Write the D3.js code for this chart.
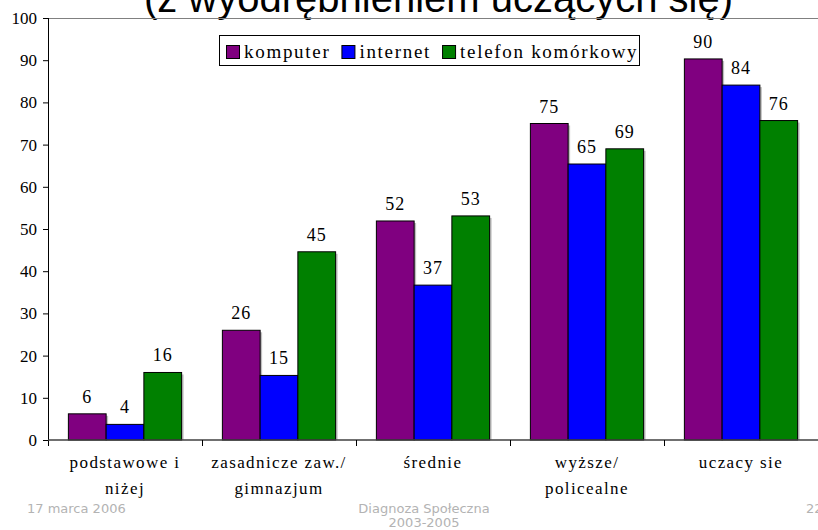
<!DOCTYPE html>
<html>
<head>
<meta charset="utf-8">
<script src="https://cdn.jsdelivr.net/npm/d3@7"></script>
<style>
  html, body { margin: 0; padding: 0; background: #ffffff; }
  svg { display: block; }
  .serif { font-family: "Liberation Serif", "Times New Roman", Times, serif; }
  .sans { font-family: "Liberation Sans", Arial, Helvetica, sans-serif; }
  .foot { font-family: "DejaVu Sans", Verdana, sans-serif; }
</style>
</head>
<body>
<svg id="chart" width="818" height="530"></svg>
<script>
// ---- data ----
const categories = [
  ["podstawowe i", "niżej"],
  ["zasadnicze zaw./", "gimnazjum"],
  ["średnie"],
  ["wyższe/", "policealne"],
  ["uczacy sie"]
];
const seriesNames = ["komputer", "internet", "telefon komórkowy"];
const seriesColors = ["#800080", "#0000FF", "#008000"];
const komputer = [6.2, 26.0, 51.9, 75.0, 90.3];
const internet = [3.7, 15.3, 36.7, 65.4, 84.1];
const telefon  = [16.0, 44.6, 53.1, 69.0, 75.7];
const yTicks = [0, 10, 20, 30, 40, 50, 60, 70, 80, 90, 100];
const titleText = "(z wyodrębnieniem uczących się)";
const footerLeft = "17 marca 2006";
const footerCenter = ["Diagnoza Społeczna", "2003-2005"];
const footerRight = "22";

const seriesValues = [komputer, internet, telefon];

// ---- layout ----
const svg = d3.select("#chart");
const plot = { left: 48, right: 818, top: 18, bottom: 440 };
const catKeys = categories.map((c, i) => "c" + i);

const x0 = d3.scaleBand().domain(catKeys).range([plot.left, plot.right]).paddingInner(0).paddingOuter(0);
const x1 = d3.scaleBand().domain(seriesNames).range([0, x0.bandwidth()]).paddingInner(0).paddingOuter(0.54);
const y = d3.scaleLinear().domain([0, 100]).range([plot.bottom, plot.top]);

// title (partially cut off at top, as in the reference)
svg.append("text")
  .attr("class", "sans")
  .attr("x", 733).attr("y", 12)
  .attr("text-anchor", "end")
  .style("font-size", "40px")
  .attr("fill", "#000")
  .text(titleText);

// top border of plot
svg.append("line")
  .attr("x1", plot.left).attr("x2", plot.right)
  .attr("y1", y(100) + 0.5).attr("y2", y(100) + 0.5)
  .attr("stroke", "#808080").attr("stroke-width", 1);

// bars
const groups = svg.append("g").selectAll("g")
  .data(catKeys)
  .join("g")
  .attr("transform", d => `translate(${x0(d)},0)`);

const barData = (d, i) => seriesNames.map((s, k) => ({ s, k, v: seriesValues[k][i] }));

// shadows
groups.each(function(d, i) {
  const g = d3.select(this);
  g.selectAll("rect.shadow")
    .data(barData(d, i))
    .join("rect")
    .attr("class", "shadow")
    .attr("x", b => x1(b.s) + 2)
    .attr("y", b => y(b.v) + 2)
    .attr("width", x1.bandwidth())
    .attr("height", b => y(0) - y(b.v) - 2)
    .attr("fill", "#c0c0c0");
});

groups.each(function(d, i) {
  const g = d3.select(this);
  g.selectAll("rect.bar")
    .data(barData(d, i))
    .join("rect")
    .attr("class", "bar")
    .attr("x", b => x1(b.s))
    .attr("y", b => y(b.v))
    .attr("width", x1.bandwidth())
    .attr("height", b => y(0) - y(b.v))
    .attr("fill", b => seriesColors[b.k])
    .attr("stroke", "#000")
    .attr("stroke-width", 1);

  g.selectAll("text.val")
    .data(barData(d, i))
    .join("text")
    .attr("class", "val serif")
    .attr("x", b => x1(b.s) + x1.bandwidth() / 2)
    .attr("y", b => y(b.v) - 11)
    .attr("text-anchor", "middle")
    .style("font-size", "18px")
    .style("letter-spacing", "1px")
    .attr("fill", "#000")
    .text(b => Math.round(b.v));
});

// y axis
const yAxis = d3.axisLeft(y).tickValues(yTicks).tickSize(5).tickPadding(6).tickFormat(d3.format("d"));
const gy = svg.append("g").attr("transform", `translate(${plot.left},0)`).call(yAxis);
gy.attr("font-family", null).attr("font-size", null);
gy.select(".domain").attr("stroke", "#000").attr("d", `M0.5,${plot.top}V${plot.bottom + 6}`);
gy.selectAll(".tick line").attr("stroke", "#000");
gy.selectAll(".tick text")
  .attr("class", "serif").style("font-size", "17px").attr("fill", "#000");

// x axis
const xAxis = d3.axisBottom(x0).tickSize(0).tickFormat(() => "");
const gx = svg.append("g").attr("transform", `translate(0,${plot.bottom})`).call(xAxis);
gx.select(".domain").attr("stroke", "#404040").attr("stroke-width", 1.5).attr("d", `M${plot.left},0H${plot.right}`);
const bounds = catKeys.map(k => x0(k)).concat([x0(catKeys[catKeys.length - 1]) + x0.bandwidth()]);
gx.selectAll("line.bound")
  .data(bounds.slice(1, -1))
  .join("line")
  .attr("class", "bound")
  .attr("x1", d => Math.round(d) + 0.5).attr("x2", d => Math.round(d) + 0.5)
  .attr("y1", 0).attr("y2", 6)
  .attr("stroke", "#000");

// category labels
const catG = svg.append("g");
categories.forEach((lines, i) => {
  const cx = x0(catKeys[i]) + x0.bandwidth() / 2;
  lines.forEach((ln, j) => {
    catG.append("text")
      .attr("class", "serif")
      .attr("x", cx).attr("y", 468 + j * 26)
      .attr("text-anchor", "middle")
      .style("font-size", "17px")
      .style("letter-spacing", "1.4px")
      .attr("fill", "#000")
      .text(ln);
  });
});

// legend
const legend = svg.append("g");
legend.append("rect")
  .attr("x", 219.5).attr("y", 35.5).attr("width", 420).attr("height", 30)
  .attr("fill", "#fff").attr("stroke", "#000").attr("stroke-width", 1);
let lx = 226;
seriesNames.forEach((s, k) => {
  legend.append("rect")
    .attr("x", lx + 0.5).attr("y", 45.5).attr("width", 13).attr("height", 13)
    .attr("fill", seriesColors[k]).attr("stroke", "#000");
  const t = legend.append("text")
    .attr("class", "serif")
    .attr("x", lx + 18).attr("y", 58)
    .style("font-size", "19px")
    .style("letter-spacing", "1.7px")
    .attr("fill", "#000")
    .text(s);
  lx = lx + 18 + t.node().getComputedTextLength() + 11;
});

// footer
svg.append("text").attr("class", "foot").attr("x", 27).attr("y", 513)
  .style("font-size", "13px").attr("fill", "#b3b3b3")
  .text(footerLeft);
footerCenter.forEach((t, j) => {
  svg.append("text").attr("class", "foot").attr("x", 424).attr("y", 513 + j * 14)
    .attr("text-anchor", "middle")
    .style("font-size", "13px").attr("fill", "#b3b3b3")
    .text(t);
});
svg.append("text").attr("class", "foot").attr("x", 806).attr("y", 513)
  .style("font-size", "13px").attr("fill", "#b3b3b3")
  .text(footerRight);
</script>
</body>
</html>
